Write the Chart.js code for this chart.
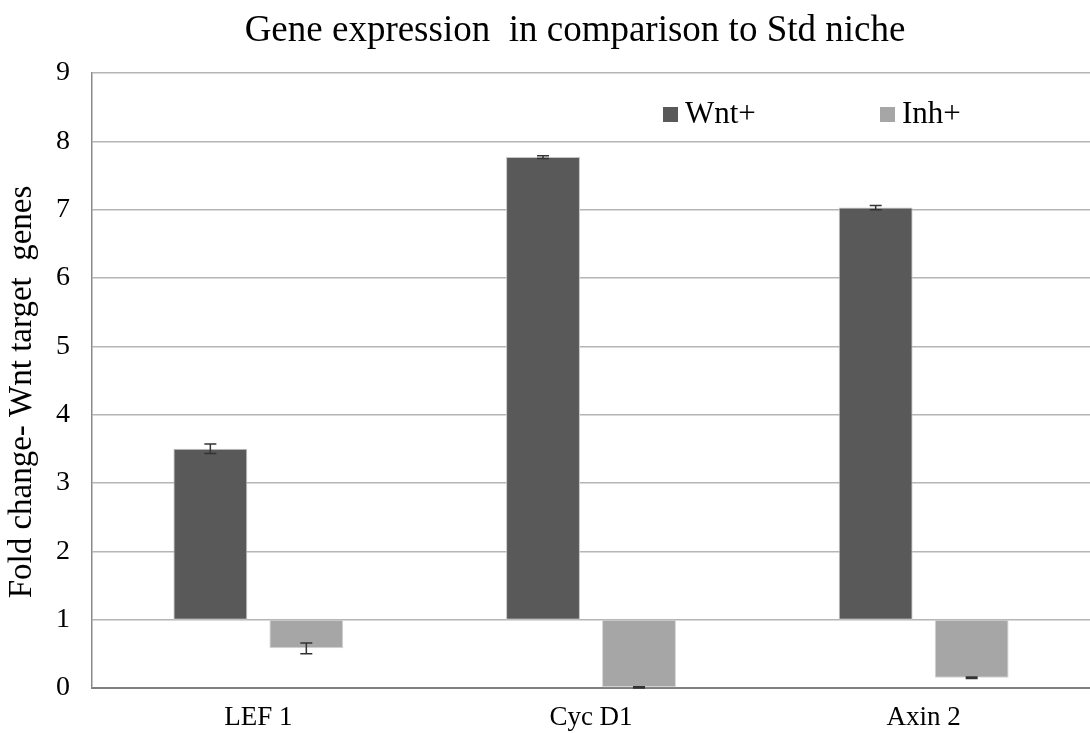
<!DOCTYPE html>
<html>
<head>
<meta charset="utf-8">
<script src="https://cdn.jsdelivr.net/npm/chart.js@4"></script>
<style>
  html, body { margin: 0; padding: 0; background: #fff; }
  #wrap { width: 1090px; height: 733px; position: relative; }
</style>
</head>
<body>
<div id="wrap"><canvas id="geneChart"></canvas></div>
<script>
// data
const genes = ['LEF 1', 'Cyc D1', 'Axin 2'];
const wntValues = [3.5, 7.77, 7.03];
const wntErrors = [0.07, 0.02, 0.03];
const inhValues = [0.58, 0.01, 0.15];
const inhErrors = [0.08, 0.01, 0.01];
const baseline = 1;   // bars start at fold change 1
const yMin = 0, yMax = 9, yStep = 1;

const serif = "'Liberation Serif', 'DejaVu Serif', serif";

// error bars, drawn over the bars through the y scale
const errorBars = {
    id: 'errorBars',
    afterDatasetsDraw(chart) {
        const ctx = chart.ctx;
        const y = chart.scales.y;
        const errs = [wntErrors, inhErrors];
        const vals = [wntValues, inhValues];
        ctx.save();
        ctx.strokeStyle = '#333';
        ctx.lineWidth = 1.5;
        chart.data.datasets.forEach((ds, i) => {
            chart.getDatasetMeta(i).data.forEach((bar, j) => {
                const top = y.getPixelForValue(vals[i][j] + errs[i][j]);
                const bot = y.getPixelForValue(vals[i][j] - errs[i][j]);
                const cx = bar.x;
                ctx.beginPath();
                ctx.moveTo(cx, top); ctx.lineTo(cx, bot);
                ctx.moveTo(cx - 6, top); ctx.lineTo(cx + 6, top);
                ctx.moveTo(cx - 6, bot); ctx.lineTo(cx + 6, bot);
                ctx.stroke();
            });
        });
        ctx.restore();
    }
};

// title, y axis title and the legend that sits inside the plot
const extras = {
    id: 'extras',
    afterDraw(chart) {
        const ctx = chart.ctx;
        ctx.save();
        ctx.fillStyle = '#000';
        ctx.font = "37px " + serif;
        ctx.textAlign = 'center';
        ctx.textBaseline = 'middle';
        ctx.fillText('Gene expression  in comparison to Std niche', 575, 31);

        // y axis title
        ctx.save();
        ctx.translate(22, 392);
        ctx.rotate(-Math.PI / 2);
        ctx.font = "33px " + serif;
        ctx.fillText('Fold change- Wnt target  genes', 0, 0);
        ctx.restore();

        const items = [
            { text: 'Wnt+', color: '#595959', x: 663 },
            { text: 'Inh+', color: '#a6a6a6', x: 880 }
        ];
        ctx.font = "31px " + serif;
        ctx.textAlign = 'left';
        items.forEach(it => {
            ctx.fillStyle = it.color;
            ctx.fillRect(it.x, 107, 15, 15);
            ctx.fillStyle = '#000';
            ctx.fillText(it.text, it.x + 22, 115);
        });
        ctx.restore();
    }
};

const ctx = document.getElementById('geneChart').getContext('2d');
new Chart(ctx, {
    type: 'bar',
    data: {
        labels: genes,
        datasets: [{
            label: 'Wnt+',
            data: wntValues.map(v => [baseline, v]),
            backgroundColor: '#595959',
            borderColor: '#c4c4c4',
            borderWidth: 1,
            borderSkipped: false
        }, {
            label: 'Inh+',
            data: inhValues.map(v => [baseline, v]),
            backgroundColor: '#a6a6a6',
            borderColor: '#d4d4d4',
            borderWidth: 1,
            borderSkipped: false
        }]
    },
    options: {
        responsive: true,
        maintainAspectRatio: false,
        animation: false,
        categoryPercentage: 0.577,
        barPercentage: 0.77,
        layout: { padding: { top: 73, right: 0, bottom: 0, left: 0 } },
        plugins: {
            legend: { display: false },
            tooltip: { enabled: false }
        },
        scales: {
            x: {
                grid: { display: false },
                border: { color: '#7f7f7f', width: 2 },
                ticks: { color: '#000', font: { family: serif, size: 27 }, padding: 6 },
                afterFit(scale) { scale.height = 45; }
            },
            y: {
                min: yMin,
                max: yMax,
                ticks: { stepSize: yStep, color: '#000', font: { family: serif, size: 28 }, padding: 22 },
                grid: { color: '#b5b5b5', lineWidth: 1.5, drawTicks: false },
                border: { color: '#8a8a8a', width: 1.5 },
                afterFit(scale) { scale.width = 92; }
            }
        }
    },
    plugins: [errorBars, extras]
});
</script>
</body>
</html>
